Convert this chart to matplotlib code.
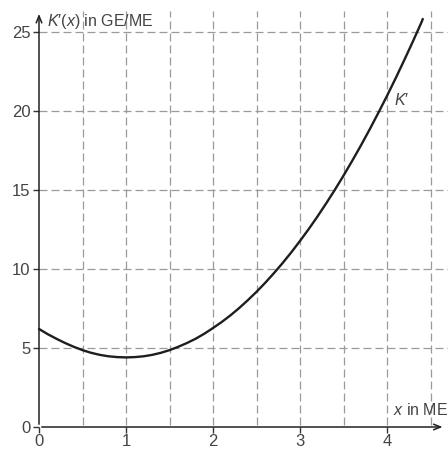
import matplotlib
matplotlib.use("Agg")
import matplotlib.pyplot as plt

plt.rcParams["font.family"] = ["Liberation Sans", "DejaVu Sans"]
plt.rcParams["mathtext.fontset"] = "custom"
plt.rcParams["mathtext.rm"] = "Liberation Sans"
plt.rcParams["mathtext.it"] = "Liberation Sans:italic"

# marginal cost K'(x)
x_vals = [0, 0.1, 0.2, 0.3, 0.4, 0.5, 0.6, 0.7, 0.8, 0.9, 1.0, 1.1, 1.2, 1.3,
          1.4, 1.5, 1.6, 1.7, 1.8, 1.9, 2.0, 2.1, 2.2, 2.3, 2.4, 2.5, 2.6,
          2.7, 2.8, 2.9, 3.0, 3.1, 3.2, 3.3, 3.4, 3.5, 3.6, 3.7, 3.8, 3.9,
          4.0, 4.1, 4.2, 4.3, 4.4, 4.41]
k_vals = [6.2, 5.87, 5.58, 5.31, 5.07, 4.86, 4.69, 4.56, 4.47, 4.42, 4.4,
          4.42, 4.47, 4.56, 4.69, 4.86, 5.07, 5.31, 5.58, 5.9, 6.26, 6.64,
          7.06, 7.52, 8.02, 8.55, 9.12, 9.73, 10.37, 11.05, 11.77, 12.52,
          13.31, 14.14, 15.0, 15.9, 16.84, 17.81, 18.82, 19.87, 20.95, 22.07,
          23.23, 24.42, 25.65, 25.8]

x_ticks = [0, 1, 2, 3, 4]
y_ticks = [0, 5, 10, 15, 20, 25]
x_grid = [0.5, 1, 1.5, 2, 2.5, 3, 3.5, 4, 4.5]
y_grid = [5, 10, 15, 20, 25]

TXT = "#444444"
GRID = "#9a9a9a"

fig = plt.figure(figsize=(4.48, 4.49), dpi=100)
ax = fig.add_axes([39 / 448, 22 / 449, 409 / 448, 427 / 449])
ax.set_xlim(0, 4.70)
ax.set_ylim(0, 27.0)
ax.patch.set_alpha(0)
for s in ax.spines.values():
    s.set_visible(False)

dash = (0, (6.4, 3.2))
for gx in x_grid:
    ax.plot([gx, gx], [0.15, 26.3], color=GRID, lw=0.9, linestyle=dash, zorder=1)
for gy in y_grid:
    ax.plot([0, 4.70], [gy, gy], color=GRID, lw=0.9, linestyle=dash, zorder=1)

# axes with arrow heads
ax.annotate("", xy=(4.67, 0), xytext=(0, 0),
            arrowprops=dict(arrowstyle="->,head_length=0.5,head_width=0.2",
                            color="#222222", lw=1.1),
            annotation_clip=False, zorder=3)
ax.annotate("", xy=(0, 26.3), xytext=(0, 0),
            arrowprops=dict(arrowstyle="->,head_length=0.5,head_width=0.2",
                            color="#222222", lw=1.1),
            annotation_clip=False, zorder=3)

ax.set_xticks(x_ticks)
ax.set_yticks(y_ticks)
ax.set_xticklabels([str(v) for v in x_ticks])
ax.set_yticklabels([str(v) for v in y_ticks])
ax.tick_params(axis="both", direction="out", length=4, width=1.0,
               color="#333333", labelcolor=TXT, labelsize=12, pad=2)
ax.tick_params(axis="x", pad=1)

ax.plot(x_vals, k_vals, color="#1e1e1e", lw=1.7, solid_joinstyle="round",
        solid_capstyle="round", zorder=4, clip_on=False)

ax.text(0.09, 25.05, "$K$\u2032($x$) in GE/ME", color=TXT, fontsize=11.5,
        ha="left", va="bottom", zorder=5)
ax.text(4.08, 20.2, "$K$\u2032", color=TXT, fontsize=11.5, ha="left",
        va="bottom", zorder=5)
ax.text(4.07, 0.6, "$x$ in ME", color=TXT, fontsize=11.5, ha="left",
        va="bottom", zorder=5)

fig.savefig("out.png", dpi=100)
